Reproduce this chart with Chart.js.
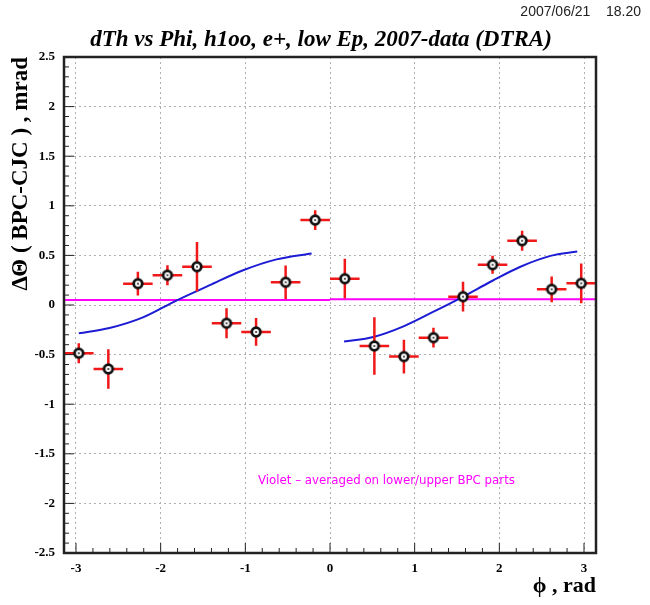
<!DOCTYPE html>
<html>
<head>
<meta charset="utf-8">
<script src="https://cdn.jsdelivr.net/npm/chart.js@4/dist/chart.umd.min.js"></script>
<style>
  body { margin: 0; background: #fff; }
  #wrap { width: 650px; height: 605px; }
</style>
</head>
<body>
<div id="wrap"><canvas id="dthChart"></canvas></div>
<script>
// bin centres in phi (18 bins over -pi..pi) and measured dTheta
const phiCenters = [-2.967, -2.618, -2.269, -1.920, -1.571, -1.222, -0.873, -0.524, -0.175,
                    0.175, 0.524, 0.873, 1.222, 1.571, 1.920, 2.269, 2.618, 2.967];
const dTheta =    [-0.486, -0.645, 0.215, 0.300, 0.386, -0.184, -0.272, 0.229, 0.856,
                    0.265, -0.413, -0.520, -0.329, 0.084, 0.406, 0.648, 0.158, 0.218];
const dThetaErr = [0.10, 0.20, 0.12, 0.10, 0.25, 0.15, 0.14, 0.17, 0.10,
                   0.20, 0.29, 0.17, 0.10, 0.15, 0.09, 0.10, 0.13, 0.20];
const phiHalfBin = 0.1745;

// blue fit curves (lower / upper half)
const fitLeftPhi = [-2.967, -2.604, -2.209, -1.815, -1.420, -1.026, -0.631, -0.217];
const fitLeftVal = [-0.285, -0.232, -0.125, 0.045, 0.200, 0.350, 0.460, 0.520];
const fitRightPhi = [0.166, 0.513, 0.868, 1.223, 1.558, 1.913, 2.249, 2.604, 2.920];
const fitRightVal = [-0.369, -0.322, -0.215, -0.067, 0.078, 0.242, 0.386, 0.495, 0.540];

// violet average lines
const avgLeftPhi = [-Math.PI, 0];
const avgLeftVal = [0.050, 0.050];
const avgRightPhi = [0, Math.PI];
const avgRightVal = [0.057, 0.057];

// axis ticks
const xTickValues = [-3, -2, -1, 0, 1, 2, 3];
const yTickValues = [-2.5, -2, -1.5, -1, -0.5, 0, 0.5, 1, 1.5, 2, 2.5];

const toXY = (xs, ys) => xs.map((x, i) => ({ x: x, y: ys[i] }));

// open circle marker with a dot in the middle
const marker = document.createElement('canvas');
marker.width = 14; marker.height = 14;
const mc = marker.getContext('2d');
mc.beginPath(); mc.arc(7, 7, 4.3, 0, 2 * Math.PI);
mc.fillStyle = '#fff'; mc.fill();
mc.lineWidth = 2.8; mc.strokeStyle = '#111'; mc.stroke();
mc.beginPath(); mc.arc(7, 7, 1.1, 0, 2 * Math.PI);
mc.fillStyle = '#333'; mc.fill();

const serif = '"Liberation Serif", "DejaVu Serif", serif';

// error bars, drawn just before the points dataset
const errorBars = {
    id: 'errorBars',
    beforeDatasetDraw(chart, args) {
        if (args.index !== 0) return;
        const { ctx, scales: { x, y } } = chart;
        ctx.save();
        ctx.strokeStyle = '#f01818';
        ctx.lineWidth = 2.5;
        phiCenters.forEach((phi, i) => {
            const px = x.getPixelForValue(phi);
            const py = y.getPixelForValue(dTheta[i]);
            ctx.beginPath();
            ctx.moveTo(x.getPixelForValue(phi - phiHalfBin), py);
            ctx.lineTo(x.getPixelForValue(phi + phiHalfBin), py);
            ctx.moveTo(px, y.getPixelForValue(dTheta[i] - dThetaErr[i]));
            ctx.lineTo(px, y.getPixelForValue(dTheta[i] + dThetaErr[i]));
            ctx.stroke();
        });
        ctx.restore();
    }
};

// frame, minor ticks and the loose texts
const frameAndText = {
    id: 'frameAndText',
    afterDraw(chart) {
        const { ctx, chartArea: a, scales: { x, y } } = chart;
        ctx.save();
        ctx.strokeStyle = '#222';
        ctx.lineWidth = 1;
        // y ticks on the left, pointing inwards
        for (let k = -25; k <= 25; k++) {
            const py = y.getPixelForValue(k / 10);
            const len = (k % 5 === 0) ? 10 : 5;
            ctx.beginPath(); ctx.moveTo(a.left, py); ctx.lineTo(a.left + len, py); ctx.stroke();
        }
        // x ticks on the bottom
        for (let k = -15; k <= 15; k++) {
            const px = x.getPixelForValue(k / 5);
            const len = (k % 5 === 0) ? 10 : 5;
            ctx.beginPath(); ctx.moveTo(px, a.bottom); ctx.lineTo(px, a.bottom - len); ctx.stroke();
        }
        ctx.lineWidth = 2.5;
        ctx.strokeRect(a.left, a.top, a.right - a.left, a.bottom - a.top);

        ctx.fillStyle = '#000';
        ctx.textBaseline = 'middle';
        ctx.textAlign = 'center';
        ctx.font = 'italic bold 23px ' + serif;
        ctx.fillText('dTh vs Phi, h1oo, e+, low Ep, 2007-data (DTRA)', 321, 40);

        ctx.textAlign = 'right';
        ctx.font = '14px "Liberation Sans", Arial, sans-serif';
        ctx.fillStyle = '#222';
        ctx.fillText('2007/06/21    18.20', 641, 12);

        ctx.textAlign = 'left';
        ctx.font = '11.8px "DejaVu Sans", sans-serif';
        ctx.fillStyle = '#ff00ff';
        ctx.fillText('Violet \u2013 averaged on lower/upper BPC parts', 258, 481);
        ctx.restore();
    }
};

const ctx = document.getElementById('dthChart').getContext('2d');
const dthChart = new Chart(ctx, {
    type: 'scatter',
    data: {
        datasets: [
            {
                label: 'dTheta',
                data: toXY(phiCenters, dTheta),
                pointStyle: marker,
                pointRadius: 5,
                pointHoverRadius: 5
            },
            {
                label: 'fit lower',
                data: toXY(fitLeftPhi, fitLeftVal),
                showLine: true,
                borderColor: '#1c1cd4',
                borderWidth: 2,
                pointRadius: 0,
                cubicInterpolationMode: 'monotone'
            },
            {
                label: 'fit upper',
                data: toXY(fitRightPhi, fitRightVal),
                showLine: true,
                borderColor: '#1c1cd4',
                borderWidth: 2,
                pointRadius: 0,
                cubicInterpolationMode: 'monotone'
            },
            {
                label: 'avg lower',
                data: toXY(avgLeftPhi, avgLeftVal),
                showLine: true,
                borderColor: '#ff00ff',
                borderWidth: 2,
                pointRadius: 0
            },
            {
                label: 'avg upper',
                data: toXY(avgRightPhi, avgRightVal),
                showLine: true,
                borderColor: '#ff00ff',
                borderWidth: 2,
                pointRadius: 0
            }
        ]
    },
    options: {
        responsive: true,
        maintainAspectRatio: false,
        animation: false,
        layout: { padding: { left: 0, top: 57, right: 54, bottom: 0 } },
        plugins: {
            legend: { display: false },
            tooltip: { enabled: false },
            title: { display: false }
        },
        scales: {
            x: {
                type: 'linear',
                min: -Math.PI,
                max: Math.PI,
                afterBuildTicks: s => { s.ticks = xTickValues.map(v => ({ value: v })); },
                afterFit: s => { s.height = 52; },
                grid: { color: '#b0b0b0', lineWidth: 1, drawTicks: false },
                border: { display: false, dash: [2, 3] },
                ticks: {
                    padding: 8,
                    color: '#000',
                    callback: v => String(v),
                    font: { family: serif, size: 13, weight: 'bold' }
                },
                title: {
                    display: true,
                    text: '\u03d5 , rad',
                    align: 'end',
                    color: '#000',
                    font: { family: serif, size: 22, weight: 'bold' },
                    padding: { top: 0, bottom: 5 }
                }
            },
            y: {
                type: 'linear',
                min: -2.5,
                max: 2.5,
                afterBuildTicks: s => { s.ticks = yTickValues.map(v => ({ value: v })); },
                afterFit: s => { s.width = 64; },
                grid: { color: '#b0b0b0', lineWidth: 1, drawTicks: false },
                border: { display: false, dash: [2, 3] },
                ticks: {
                    padding: 9,
                    color: '#000',
                    callback: v => String(v),
                    font: { family: serif, size: 13, weight: 'bold' }
                },
                title: {
                    display: true,
                    text: '\u0394\u0398 ( BPC-CJC ) , mrad',
                    align: 'end',
                    color: '#000',
                    font: { family: serif, size: 23, weight: 'bold' },
                    padding: { top: 7, bottom: 0 }
                }
            }
        }
    },
    plugins: [errorBars, frameAndText]
});
</script>
</body>
</html>
